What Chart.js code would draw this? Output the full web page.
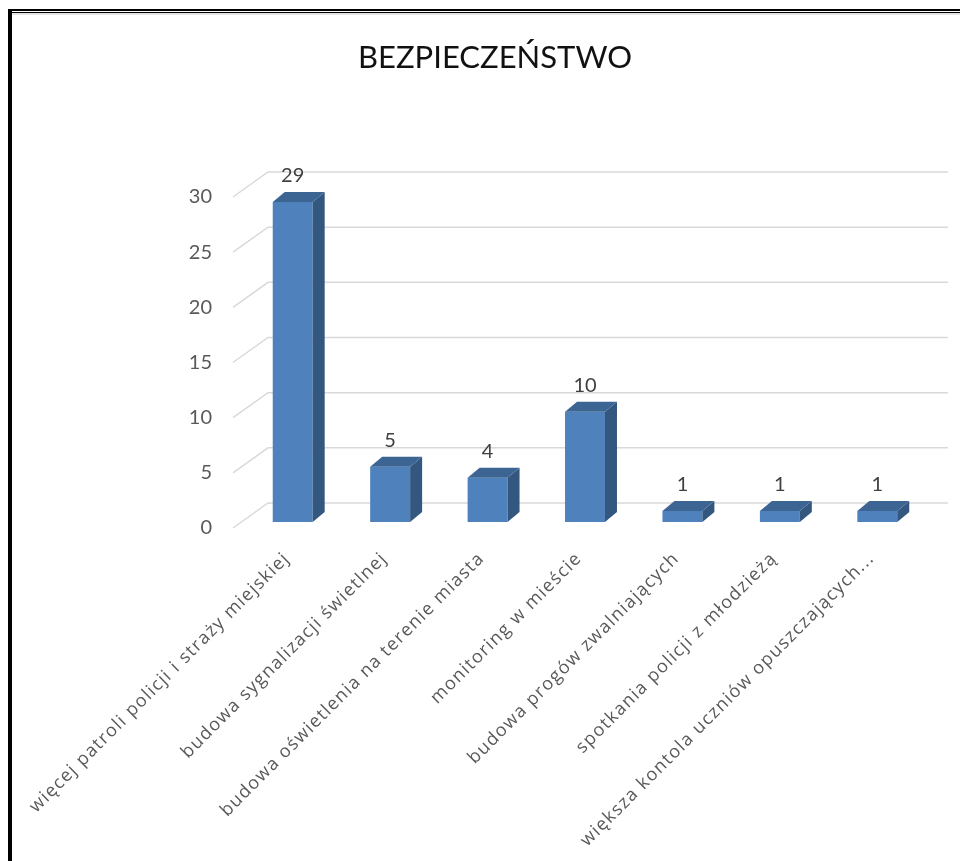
<!DOCTYPE html>
<html><head><meta charset="utf-8">
<script src="https://cdn.jsdelivr.net/npm/chart.js@4"></script>
<style>
html,body{margin:0;padding:0;background:#fff;}
#wrap{position:relative;width:960px;height:861px;overflow:hidden;background:#fff;}
canvas{position:absolute;left:0;top:0;}
.b{position:absolute;background:#000;}
</style></head><body>
<div id="wrap">
<canvas id="c" width="960" height="861"></canvas>
<div class="b" style="left:8px;top:9px;width:952px;height:2px"></div>
<div class="b" style="left:10px;top:12px;width:950px;height:1px"></div>
<div style="position:absolute;left:12px;top:13px;width:948px;height:2px;background:#e3e3e3"></div>
<div class="b" style="left:8px;top:9px;width:4px;height:852px"></div>
</div>
<script>
const title = 'BEZPIECZEŃSTWO';
const categories = [
  'więcej patroli policji i straży miejskiej',
  'budowa sygnalizacji świetlnej',
  'budowa oświetlenia na terenie miasta',
  'monitoring w mieście',
  'budowa progów zwalniających',
  'spotkania policji z młodzieżą',
  'większa kontola uczniów opuszczających...'
];
const values = [29, 5, 4, 10, 1, 1, 1];
const yMin = 0, yMax = 30, yStep = 5;

const FRONT = '#4F81BD', SIDE = '#34577F', TOP = '#3D6594';
const FONT = 'Lato, "Liberation Sans", sans-serif';
const CAT_FONT = '"Open Sans", Lato, sans-serif';

const threeD = {
  id: 'threeD',
  afterLayout(chart) {
    const s = chart.scales.x;
    if (!s._lsWrapped) {
      const orig = s.drawLabels.bind(s);
      s.drawLabels = (area) => {
        const ctx = chart.ctx;
        ctx.save();
        ctx.letterSpacing = '1.3px';
        orig(area);
        ctx.restore();
        ctx.letterSpacing = '0px';
      };
      s._lsWrapped = true;
    }
  },
  beforeDatasetsDraw(chart) {
    const {ctx, chartArea, scales: {y}} = chart;
    ctx.save();
    ctx.strokeStyle = '#d9d9d9';
    ctx.lineWidth = 1.5;
    y.ticks.forEach(t => {
      const py = y.getPixelForValue(t.value);
      ctx.beginPath();
      ctx.moveTo(chartArea.left - 11, py + 6);
      ctx.lineTo(chartArea.left + 24, py - 19);
      ctx.lineTo(chartArea.right + 22, py - 19);
      ctx.stroke();
    });
    ctx.restore();
  },
  afterDatasetsDraw(chart) {
    const {ctx} = chart;
    const meta = chart.getDatasetMeta(0);
    const dx = 12, dy = -10;
    ctx.save();
    meta.data.forEach((bar, i) => {
      const {x, y, base, width} = bar.getProps(['x', 'y', 'base', 'width'], true);
      const l = x - width / 2, r = x + width / 2;
      ctx.fillStyle = SIDE;
      ctx.beginPath();
      ctx.moveTo(r, y); ctx.lineTo(r + dx, y + dy); ctx.lineTo(r + dx, base + dy); ctx.lineTo(r, base);
      ctx.closePath(); ctx.fill();
      ctx.fillStyle = TOP;
      ctx.beginPath();
      ctx.moveTo(l, y); ctx.lineTo(l + dx, y + dy); ctx.lineTo(r + dx, y + dy); ctx.lineTo(r, y);
      ctx.closePath(); ctx.fill();
      ctx.fillStyle = '#404040';
      ctx.font = '20px ' + FONT;
      ctx.textAlign = 'center';
      ctx.textBaseline = 'middle';
      ctx.fillText(String(values[i]), x, y + dy - 16);
    });
    ctx.fillStyle = '#111';
    ctx.font = '31px ' + FONT;
    ctx.textAlign = 'center';
    ctx.textBaseline = 'middle';
    ctx.fillText(title, 495, 58);
    ctx.restore();
  }
};

new Chart(document.getElementById('c'), {
  type: 'bar',
  data: {
    labels: categories,
    datasets: [{
      data: values,
      backgroundColor: FRONT,
      borderWidth: 0,
      barPercentage: 0.41,
      categoryPercentage: 1
    }]
  },
  options: {
    responsive: false,
    animation: false,
    devicePixelRatio: 1,
    layout: {padding: {left: 0, right: 34, top: 191, bottom: 0}},
    plugins: {
      legend: {display: false},
      tooltip: {enabled: false},
      title: {display: false}
    },
    scales: {
      y: {
        min: yMin, max: yMax,
        ticks: {stepSize: yStep, color: '#595959', font: {family: FONT, size: 20}, padding: 32, labelOffset: 6},
        grid: {display: false, drawTicks: false},
        border: {display: false},
        afterFit(s) { s.width = 244; }
      },
      x: {
        ticks: {color: '#595959', font: {family: CAT_FONT, size: 18}, minRotation: 45, maxRotation: 45, autoSkip: false, padding: 26, labelOffset: -6},
        grid: {display: false, drawTicks: false},
        border: {display: false},
        afterFit(s) { s.height = 339; }
      }
    }
  },
  plugins: [threeD]
});
</script>
</body></html>
